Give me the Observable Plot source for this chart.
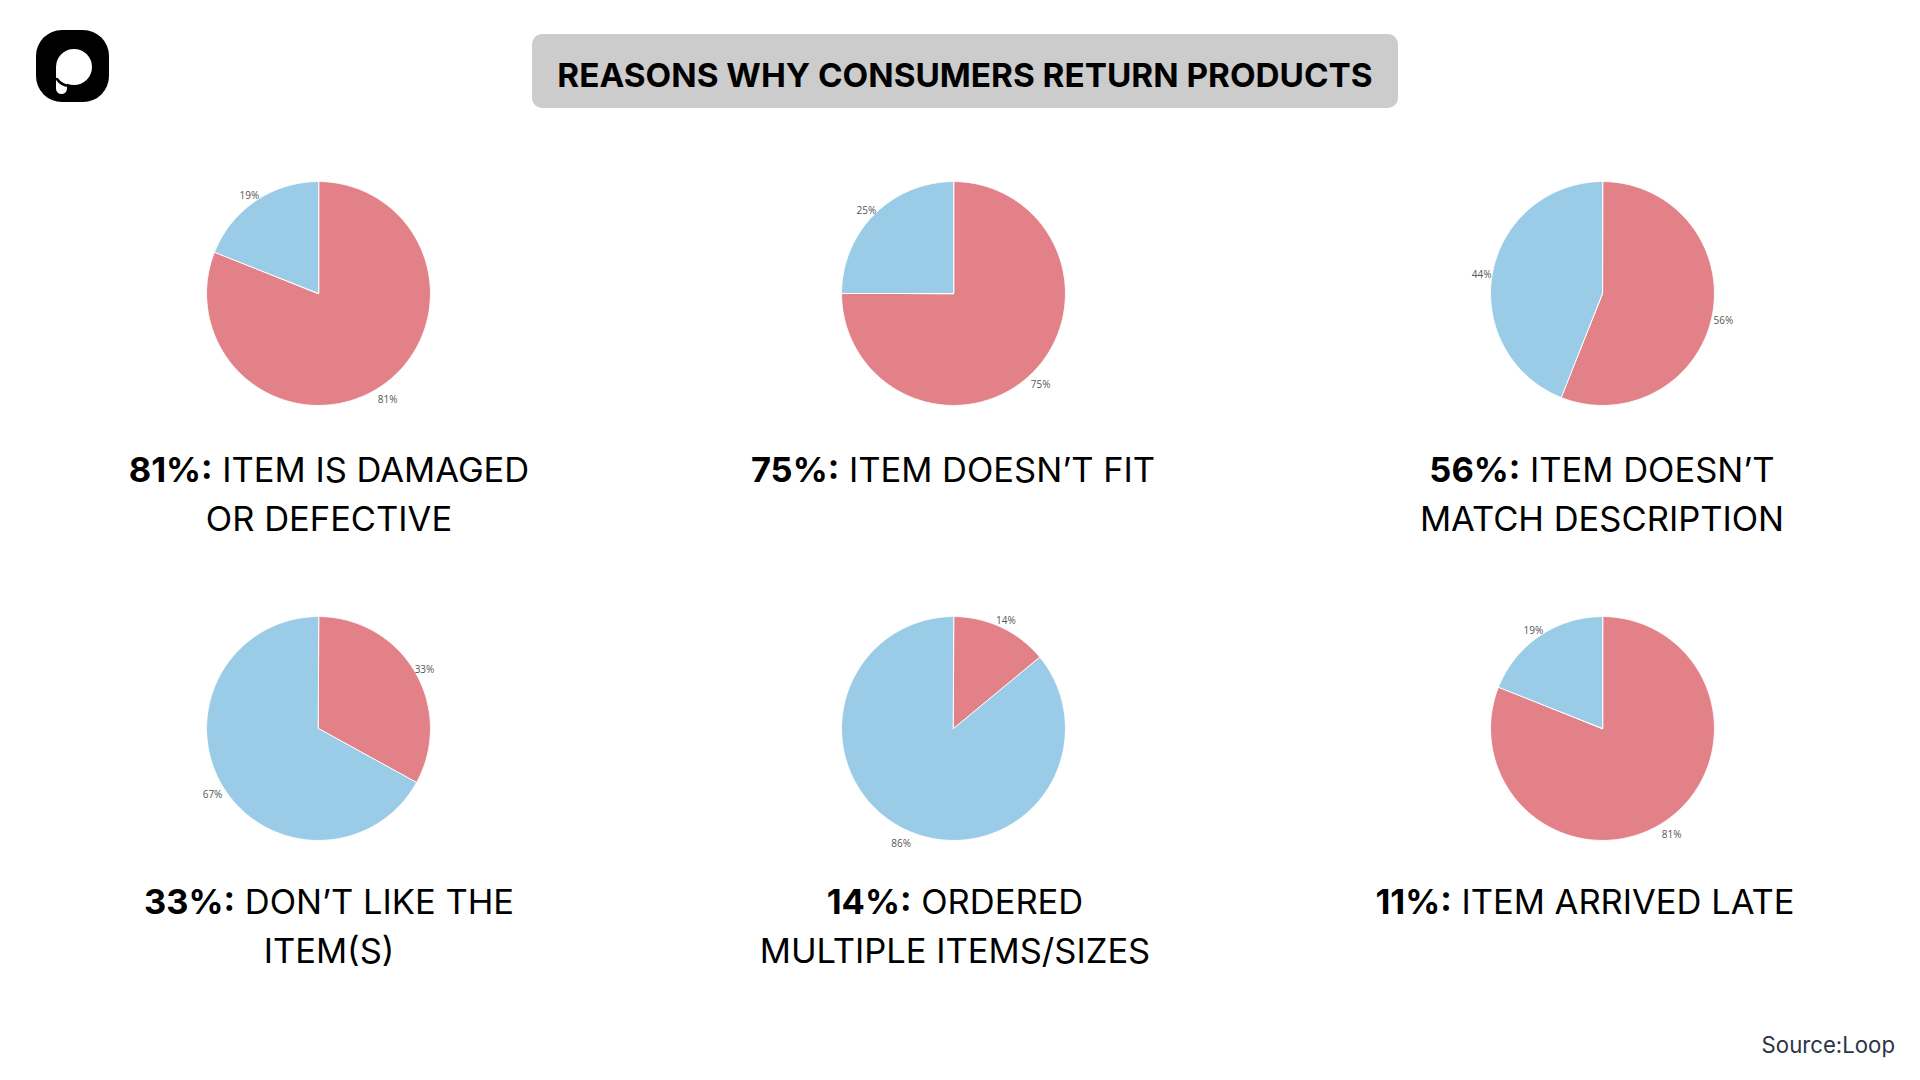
<!DOCTYPE html>
<html>
<head>
<meta charset="utf-8">
<script src="https://cdn.jsdelivr.net/npm/d3@7"></script>
<script src="https://cdn.jsdelivr.net/npm/@observablehq/plot@0.6"></script>
<style>
  html, body { margin: 0; padding: 0; background: #ffffff; }
  #page { position: relative; width: 1920px; height: 1080px; overflow: hidden; background: #fff; font-family: Inter, "Noto Sans", sans-serif; }
  #logo { position: absolute; left: 36px; top: 30px; }
  #title { position: absolute; left: 532px; top: 34px; width: 866px; height: 74px; box-sizing: border-box; padding-top: 7px; background: #cccccc; border-radius: 10px;
           display: flex; align-items: center; justify-content: center; font-weight: 700; font-size: 33.3px; color: #000; }
  .pie { position: absolute; width: 300px; height: 300px; }
  .caption { position: absolute; width: 700px; text-align: center; font-size: 34.5px; line-height: 49px; color: #000; font-weight: 400; white-space: nowrap; }
  .caption b { font-weight: 700; }
  #source { position: absolute; right: 25px; top: 1030px; font-size: 22.2px; line-height: 30px; color: #2e3347; }
</style>
</head>
<body>
<div id="page">
  <svg id="logo" width="74" height="74" viewBox="0 0 74 74">
    <rect x="0" y="0" width="73" height="72" rx="26" ry="26" fill="#000"/>
    <ellipse cx="38" cy="37" rx="18" ry="18" fill="#fff"/>
    <rect x="20" y="34" width="11" height="30" rx="5.5" ry="5.5" fill="#fff"/>
    <path d="M21,49 Q25,55 33,56" fill="none" stroke="#000" stroke-width="2.6" stroke-linecap="round"/>
  </svg>
  <div id="title">REASONS WHY CONSUMERS RETURN PRODUCTS</div>
  <div id="source">Source:Loop</div>
</div>
<script>
// ---- data ----
const headlinePct = [81, 75, 56, 33, 14, 11];
const captionLine1 = ["ITEM IS DAMAGED", "ITEM DOESN’T FIT", "ITEM DOESN’T", "DON’T LIKE THE", "ORDERED", "ITEM ARRIVED LATE"];
const captionLine2 = ["OR DEFECTIVE", "", "MATCH DESCRIPTION", "ITEM(S)", "MULTIPLE ITEMS/SIZES", ""];
const reasonShare = [81, 75, 56, 33, 14, 81];   // red slice as drawn
const otherShare  = [19, 25, 44, 67, 86, 19];   // blue slice as drawn
const sliceNames = ["reason", "other"];
const sliceColors = ["#e28288", "#9acce8"];

// ---- layout ----
const pieCenters = [[318, 293], [953, 293], [1602, 293], [318, 728], [953, 728], [1602, 728]];
const captionCenters = [[329, 445], [953, 445], [1602, 445], [329, 877], [955, 877], [1585, 877]];

const page = document.getElementById("page");
const PIE_SIZE = 300;
const EXTENT = 1.34;       // domain half-width; unit radius ≈ 112px
const LABEL_R = 1.1;

function wedgePoints(slice, startFrac, endFrac) {
  const pts = [{slice, x: 0, y: 0}];
  const a0 = startFrac * 2 * Math.PI, a1 = endFrac * 2 * Math.PI;
  const n = Math.max(2, Math.ceil((a1 - a0) / (Math.PI / 360)));
  for (let i = 0; i <= n; i++) {
    const a = a0 + (a1 - a0) * i / n;
    pts.push({slice, x: Math.sin(a), y: Math.cos(a)});
  }
  return pts;
}

for (let i = 0; i < headlinePct.length; i++) {
  const values = [reasonShare[i], otherShare[i]];
  const total = d3.sum(values);
  let acc = 0;
  const wedges = [];
  const labels = [];
  values.forEach((v, j) => {
    const s = acc / total, e = (acc + v) / total;
    wedges.push(...wedgePoints(sliceNames[j], s, e));
    const mid = (s + e) / 2 * 2 * Math.PI;
    labels.push({slice: sliceNames[j], text: v + "%", x: LABEL_R * Math.sin(mid), y: LABEL_R * Math.cos(mid)});
    acc += v;
  });

  const chart = Plot.plot({
    width: PIE_SIZE,
    height: PIE_SIZE,
    margin: 0,
    x: {domain: [-EXTENT, EXTENT], axis: null},
    y: {domain: [-EXTENT, EXTENT], axis: null},
    color: {domain: sliceNames, range: sliceColors},
    style: {background: "transparent", fontFamily: "'Open Sans', sans-serif", overflow: "visible"},
    marks: [
      Plot.line(wedges, {x: "x", y: "y", z: "slice", fill: "slice", stroke: "#ffffff", strokeWidth: 1, curve: "linear-closed"}),
      Plot.text(labels, {x: "x", y: "y", text: "text", textAnchor: "middle", dy: 4, fontSize: 10, fill: "#555"})
    ]
  });
  const holder = document.createElement("div");
  holder.className = "pie";
  holder.style.left = (pieCenters[i][0] - PIE_SIZE / 2) + "px";
  holder.style.top = (pieCenters[i][1] - PIE_SIZE / 2) + "px";
  holder.appendChild(chart);
  page.appendChild(holder);

  const cap = document.createElement("div");
  cap.className = "caption";
  cap.style.left = (captionCenters[i][0] - 350) + "px";
  cap.style.top = captionCenters[i][1] + "px";
  const b = document.createElement("b");
  b.textContent = headlinePct[i] + "%:";
  cap.appendChild(b);
  cap.appendChild(document.createTextNode(" " + captionLine1[i]));
  if (captionLine2[i]) {
    cap.appendChild(document.createElement("br"));
    cap.appendChild(document.createTextNode(captionLine2[i]));
  }
  page.appendChild(cap);
}
</script>
</body>
</html>
